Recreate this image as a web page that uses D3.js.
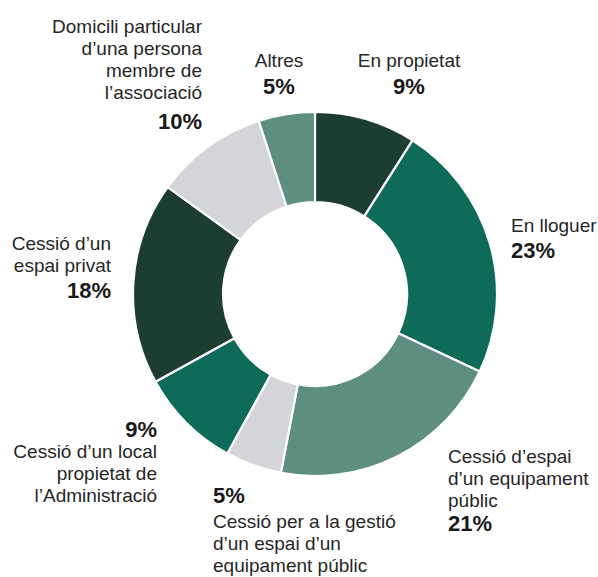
<!DOCTYPE html>
<html>
<head>
<meta charset="utf-8">
<script src="https://cdn.jsdelivr.net/npm/d3@7"></script>
<style>
  html, body { margin: 0; padding: 0; background: #fff; }
  svg { display: block; }
  text { font-family: "Liberation Sans", Arial, Helvetica, sans-serif; }
</style>
</head>
<body>
<div id="chart"></div>
<script>
// Tipus d'espai on té la seu l'associació (%)
const categories = [
  "En propietat",
  "En lloguer",
  "Cessió d’espai d’un equipament públic",
  "Cessió per a la gestió d’un espai d’un equipament públic",
  "Cessió d’un local propietat de l’Administració",
  "Cessió d’un espai privat",
  "Domicili particular d’una persona membre de l’associació",
  "Altres"
];
const values = [9, 23, 21, 5, 9, 18, 10, 5];
const labelLines = [
  ["En propietat"],
  ["En lloguer"],
  ["Cessió d’espai", "d’un equipament", "públic"],
  ["Cessió per a la gestió", "d’un espai d’un", "equipament públic"],
  ["Cessió d’un local", "propietat de", "l’Administració"],
  ["Cessió d’un", "espai privat"],
  ["Domicili particular", "d’una persona", "membre de", "l’associació"],
  ["Altres"]
];

const colors = ["#1d3d33", "#0d6b58", "#5e8e80", "#d4d5d9", "#0d6b58", "#1d3d33", "#d4d5d9", "#5e8e80"];

// Label placement: x, first text baseline, anchor, percent baseline, whether percent comes first
const placement = [
  { x: 409, y: 67,  anchor: "middle", py: 94,  pctFirst: false },
  { x: 511, y: 232, anchor: "start",  py: 258, pctFirst: false },
  { x: 448, y: 463, anchor: "start",  py: 531, pctFirst: false },
  { x: 213, y: 528, anchor: "start",  py: 503, pctFirst: true  },
  { x: 157, y: 458, anchor: "end",    py: 437, pctFirst: true  },
  { x: 111, y: 250, anchor: "end",    py: 298, pctFirst: false },
  { x: 202, y: 33,  anchor: "end",    py: 129, pctFirst: false },
  { x: 279, y: 67,  anchor: "middle", py: 94,  pctFirst: false }
];

const W = 598, H = 577;
const cx = 315, cy = 294, outerR = 182, innerR = 92;
const lineH = 22;

const svg = d3.select("#chart").append("svg")
  .attr("width", W).attr("height", H);

const pie = d3.pie().sort(null).value(d => d)
  .startAngle(0).endAngle(2 * Math.PI);
const arc = d3.arc().innerRadius(innerR).outerRadius(outerR);

const g = svg.append("g").attr("transform", `translate(${cx},${cy})`);

g.selectAll("path.slice")
  .data(pie(values))
  .join("path")
  .attr("class", "slice")
  .attr("d", arc)
  .attr("fill", (d, i) => colors[i])
  .attr("stroke", "#ffffff")
  .attr("stroke-width", 2.2)
  .attr("stroke-linejoin", "round");

const labels = svg.append("g").selectAll("g.label")
  .data(values.map((v, i) => ({ v, i, lines: labelLines[i], p: placement[i] })))
  .join("g")
  .attr("class", "label");

labels.each(function (d) {
  const sel = d3.select(this);
  d.lines.forEach((ln, k) => {
    sel.append("text")
      .attr("x", d.p.x)
      .attr("y", d.p.y + k * lineH)
      .attr("text-anchor", d.p.anchor)
      .attr("font-size", 19)
      .attr("fill", "#262626")
      .text(ln);
  });
  sel.append("text")
    .attr("x", d.p.x)
    .attr("y", d.p.py)
    .attr("text-anchor", d.p.anchor)
    .attr("font-size", 22)
    .attr("font-weight", "bold")
    .attr("fill", "#1a1a1a")
    .text(d.v + "%");
});
</script>
</body>
</html>
